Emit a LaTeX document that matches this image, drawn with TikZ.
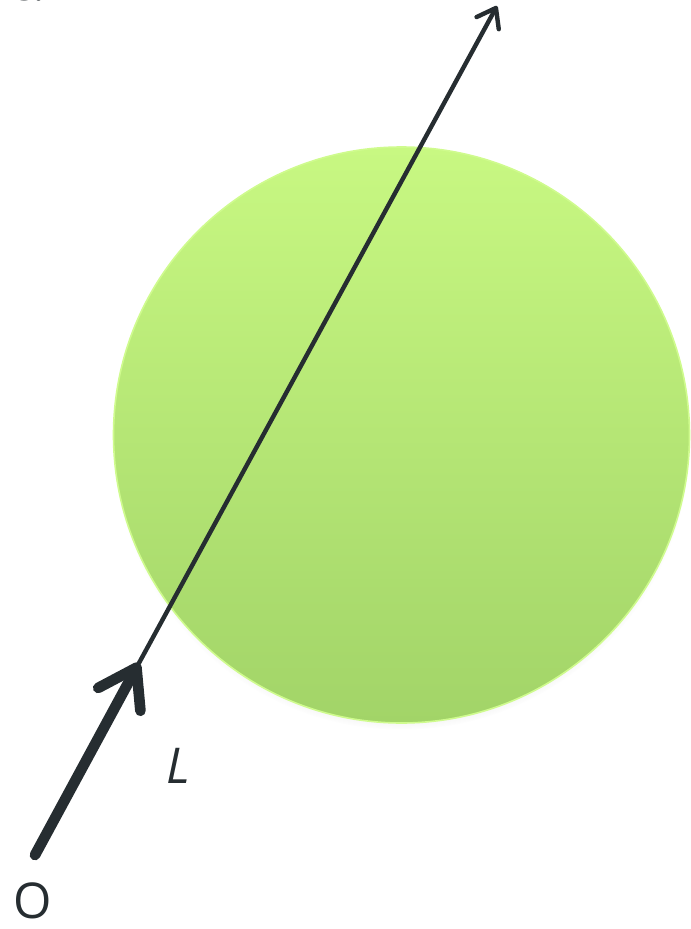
\documentclass[tikz,border=0pt]{standalone}
\usepackage{fontspec}
\setmainfont{Open Sans}
\usetikzlibrary{arrows.meta,shadows}
\definecolor{inkc}{HTML}{262D31}
\definecolor{greentop}{HTML}{C8F882}
\definecolor{greenbot}{HTML}{A2D468}
\definecolor{rimc}{HTML}{CFFB8E}
\tikzset{
  sphere/.style={circle, inner sep=0pt, minimum size=432pt, draw=rimc, line width=1.2pt,
    top color=greentop, bottom color=greenbot,
    circular drop shadow={shadow xshift=0pt, shadow yshift=-5pt, shadow scale=1.0, opacity=0.35}},
  label/.style={text=inkc, font=\fontsize{37}{44}\selectfont, inner sep=0pt},
  thickray/.style={draw=inkc, line width=8pt, line cap=round,
    -{Straight Barb[round, length=27pt, width=36pt]}},
  thinray/.style={draw=inkc, line width=3.3pt, line cap=round,
    -{Straight Barb[round, length=13pt, width=19pt]}}
}
\begin{document}
\begin{tikzpicture}[x=0.75pt,y=-0.75pt]
\useasboundingbox (0,0) rectangle (690,929);
\node[sphere] (ball) at (401.5,435) {};
\coordinate (start) at (35,855);
\coordinate (mid) at (139,663);
\coordinate (tip) at (497,6);
\draw[thinray] (mid) -- (tip);
\draw[thickray] (start) -- (mid);
\node[label, anchor=base] (lab) at (178,783) {\itshape L};
\node[label, anchor=base] (orig) at (33,918) {O};
\node[label, anchor=base west] (tag) at (9,0) {c.};
\end{tikzpicture}
\end{document}
